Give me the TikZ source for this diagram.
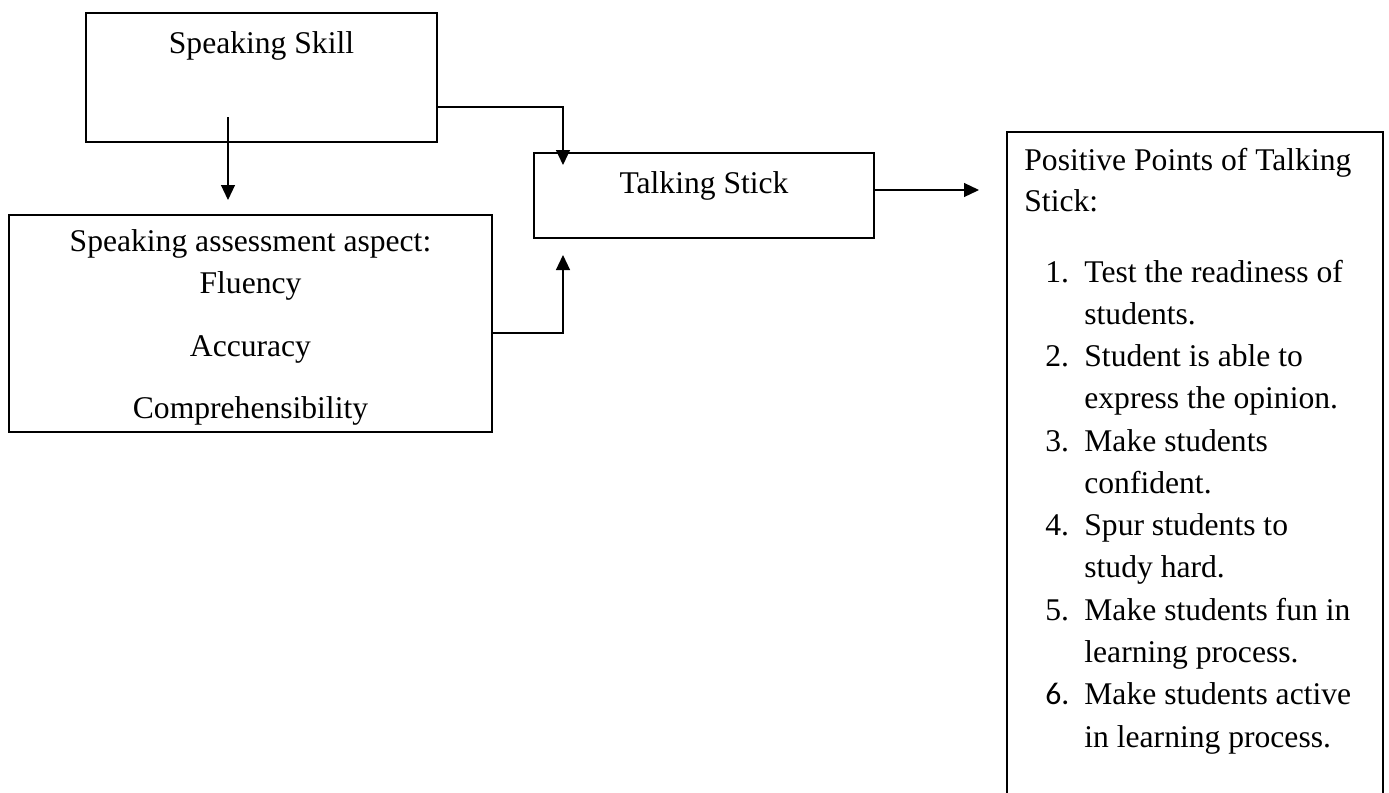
\documentclass[tikz,border=0pt]{standalone}
\usepackage{fontspec}
\setmainfont{Liberation Serif}
\newfontfamily\calib{Carlito}
\usetikzlibrary{arrows.meta}
\begin{document}
\begin{tikzpicture}[x=0.5pt,y=-0.5pt,
  box/.style={draw, line width=0.65pt, inner sep=0pt},
  conn/.style={line width=0.6pt, -{Triangle[length=7.5pt,width=7pt]}},
  txt/.style={inner sep=0pt, anchor=base, font=\fontsize{15.8}{19}\selectfont},
  txtl/.style={txt, anchor=base west}]
\useasboundingbox (0,0) rectangle (1389,793);
\clip (0,0) rectangle (1389,793);
% boxes
\node[box, minimum width=175.5pt, minimum height=64.5pt] (ss) at (261.5,77.5) {};
\node[box, minimum width=170pt, minimum height=42.5pt] (ts) at (704,195.5) {};
\node[box, minimum width=241.5pt, minimum height=108.5pt] (sa) at (250.5,323.5) {};
\node[box, minimum width=188pt, minimum height=349pt] (pp) at (1195,481) {};
% texts
\node[txt] (t1) at (261.5,53) {Speaking Skill};
\node[txt] (t2) at (704,193) {Talking Stick};
\node[txt] (t3) at (250.5,251) {Speaking assessment aspect:};
\node[txt] (t4) at (250.5,293) {Fluency};
\node[txt] (t5) at (250.5,356) {Accuracy};
\node[txt] (t6) at (250.5,418) {Comprehensibility};
\node[txtl] (p0) at (1024,170) {Positive Points of Talking};
\node[txtl] (p0b) at (1024,211) {Stick:};
\node[txtl] (n1) at (1045,282) {1.};
\node[txtl] (l1) at (1084,282) {Test the readiness of};
\node[txtl] (l1b) at (1084,324.3) {students.};
\node[txtl] (n2) at (1045,366.5) {2.};
\node[txtl] (l2) at (1084,366.5) {Student is able to};
\node[txtl] (l2b) at (1084,408.8) {express the opinion.};
\node[txtl] (n3) at (1045,451.1) {3.};
\node[txtl] (l3) at (1084,451.1) {Make students};
\node[txtl] (l3b) at (1084,493.4) {confident.};
\node[txtl] (n4) at (1045,535.6) {4.};
\node[txtl] (l4) at (1084,535.6) {Spur students to};
\node[txtl] (l4b) at (1084,577.9) {study hard.};
\node[txtl] (n5) at (1045,620.2) {5.};
\node[txtl] (l5) at (1084,620.2) {Make students fun in};
\node[txtl] (l5b) at (1084,662.5) {learning process.};
\node[txtl, font=\calib\fontsize{15.8}{19}\selectfont] (n6) at (1045,704.7) {6.};
\node[txtl] (l6) at (1084,704.7) {Make students active};
\node[txtl] (l6b) at (1084,747) {in learning process.};
% connector end points
\coordinate (a1s) at (228,117);
\coordinate (a1e) at (228,200);
\coordinate (a2s) at (ss.east |- 0,107);
\coordinate (a2e) at (563,165);
\coordinate (a3s) at (ts.east |- 0,190);
\coordinate (a3e) at (979,190);
\coordinate (a4s) at (sa.east |- 0,333);
\coordinate (a4e) at (563,255);
% connectors
\draw[conn] (a1s) -- (a1e);
\draw[conn] (a2s) -| (a2e);
\draw[conn] (a3s) -- (a3e);
\draw[conn] (a4s) -| (a4e);
\end{tikzpicture}
\end{document}
